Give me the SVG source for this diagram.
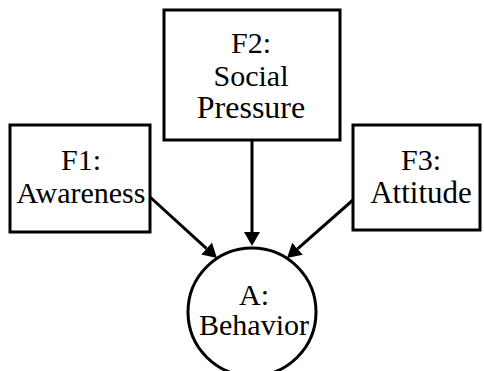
<svg xmlns="http://www.w3.org/2000/svg" width="484" height="371" viewBox="0 0 484 371">
<defs>
<style>
.box{fill:#fff;stroke:#000;stroke-width:3}
.t{font-family:"Liberation Serif","Times New Roman",serif;font-size:30px;fill:#000;text-anchor:middle}
.c{fill:none;stroke:#000;stroke-width:3}
</style>
<marker id="ah" viewBox="0 0 14 16" refX="0" refY="8" markerWidth="14" markerHeight="16" markerUnits="userSpaceOnUse" orient="auto">
<path d="M0,0 L14,8 L0,16 z" fill="#000"/>
</marker>
</defs>
<rect width="484" height="371" fill="#fff"/>
<g id="connectors">
<line class="c" x1="252" y1="140" x2="252" y2="232" marker-end="url(#ah)"/>
<line class="c" x1="150" y1="197" x2="206.6" y2="248.6" marker-end="url(#ah)"/>
<line class="c" x1="353" y1="200" x2="297.5" y2="248.8" marker-end="url(#ah)"/>
</g>
<g id="F1">
<rect class="box" x="10" y="125" width="140" height="107"/>
<text class="t" x="81" y="170">F1:</text>
<text class="t" x="81" y="203">Awareness</text>
</g>
<g id="F2">
<rect class="box" x="164" y="10" width="176" height="130"/>
<text class="t" x="251" y="53">F2:</text>
<text class="t" x="251" y="86">Social</text>
<text class="t" x="251" y="118" style="font-size:32px">Pressure</text>
</g>
<g id="F3">
<rect class="box" x="353" y="125" width="127" height="105"/>
<text class="t" x="421" y="170">F3:</text>
<text class="t" x="421" y="203" style="font-size:31px">Attitude</text>
</g>
<g id="A">
<circle class="box" cx="252" cy="312" r="64"/>
<text class="t" x="254" y="305">A:</text>
<text class="t" x="254" y="335">Behavior</text>
</g>
</svg>
